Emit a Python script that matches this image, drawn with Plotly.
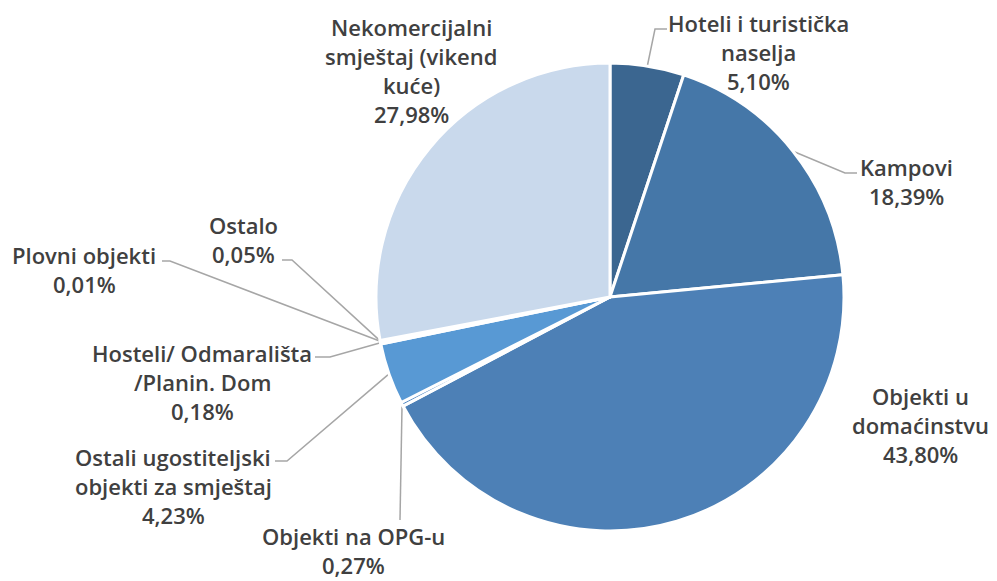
"""struktura smještaja - pita"""
import math
import plotly.graph_objects as go

# podaci
labels = ["Hoteli i turistička naselja", "Kampovi", "Objekti u domaćinstvu",
          "Objekti na OPG-u", "Ostali ugostiteljski objekti za smještaj",
          "Hosteli/ Odmarališta /Planin. Dom", "Plovni objekti", "Ostalo",
          "Nekomercijalni smještaj (vikend kuće)"]
values = [5.10, 18.39, 43.80, 0.27, 4.23, 0.18, 0.01, 0.05, 27.98]
label_lines = [
    ["Hoteli i turistička", "naselja"],
    ["Kampovi"],
    ["Objekti u", "domaćinstvu"],
    ["Objekti na OPG-u"],
    ["Ostali ugostiteljski", "objekti za smještaj"],
    ["Hosteli/ Odmarališta", "/Planin. Dom"],
    ["Plovni objekti"],
    ["Ostalo"],
    ["Nekomercijalni", "smještaj (vikend", "kuće)"],
]
colors = ["#3b6690", "#4577a8", "#4d80b6", "#4f86c2", "#5899d4",
          "#6aa6d9", "#8ab8e2", "#a9c8e8", "#c9d9ec"]

# raspored (pikseli u prozoru; stranica ima marginu od 8 px)
W, H = 997, 581
OFF = 8
CX, CY, R = 610 - OFF, 297 - OFF, 234
label_pos = [(758, 23), (906, 167), (920, 396), (353, 536), (173, 457),
             (202, 353), (84, 255), (243, 225), (411, 27)]
leader = [[(655, 29), (667, 29)], [(845, 173), (857, 173)], None,
          [(400, 520)], [(287, 461), (275, 461)], [(330, 357), (315, 357)],
          [(170, 261), (162, 261)], [(292, 260), (282, 260)], None]
LINE_H = 29
FONT = dict(family="Open Sans", size=22, color="#404040", weight=600)


def pct(v):
    return f"{v:.2f}".replace(".", ",") + "%"


fig = go.Figure()

# linije do oznaka
total = sum(values)
cum = 0
for i, v in enumerate(values):
    mid = (cum + v / 2) / total * 2 * math.pi
    cum += v
    if leader[i] is None:
        continue
    ax = CX + R * math.sin(mid)
    ay = CY - R * math.cos(mid)
    xs = [ax] + [p[0] - OFF for p in leader[i]]
    ys = [ay] + [p[1] - OFF for p in leader[i]]
    fig.add_trace(go.Scatter(x=xs, y=ys, mode="lines", hoverinfo="skip",
                             line=dict(color="#a6a6a6", width=1.5),
                             showlegend=False))

fig.add_trace(go.Pie(
    labels=labels, values=values, sort=False, direction="clockwise",
    rotation=0, textinfo="none", hoverinfo="label+percent",
    marker=dict(colors=colors, line=dict(color="white", width=3)),
    domain=dict(x=[(CX - R) / W, (CX + R) / W],
                y=[(H - CY - R) / H, (H - CY + R) / H]),
    showlegend=False,
))

# oznake
for i, v in enumerate(values):
    x0, y0 = label_pos[i]
    for j, t in enumerate(label_lines[i] + [pct(v)]):
        fig.add_annotation(x=x0 - OFF, y=y0 - OFF + j * LINE_H, text=t,
                           showarrow=False, xref="x", yref="y",
                           xanchor="center", yanchor="middle", font=FONT)

fig.update_layout(
    width=W, height=H, margin=dict(l=0, r=0, t=0, b=0),
    paper_bgcolor="white", plot_bgcolor="white",
    xaxis=dict(range=[0, W], visible=False, fixedrange=True),
    yaxis=dict(range=[H, 0], visible=False, fixedrange=True),
)

fig.write_html("out.html")
